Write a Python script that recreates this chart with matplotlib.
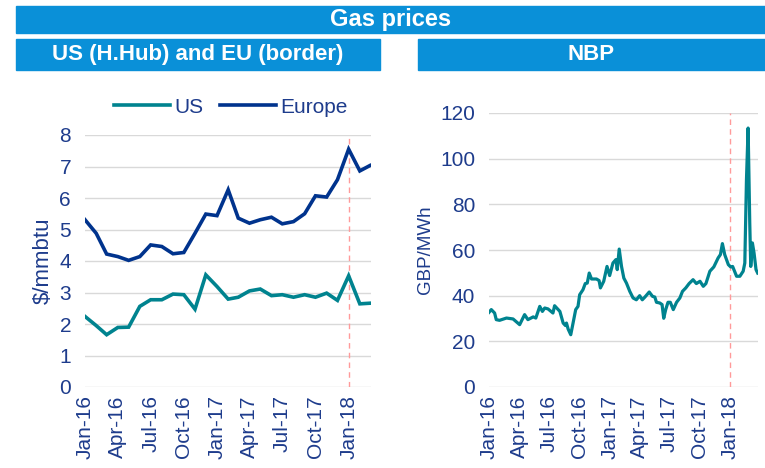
import matplotlib
matplotlib.use("Agg")
import matplotlib.pyplot as plt
import matplotlib.dates as mdates
import pandas as pd

# monthly prices, $/mmbtu, Jan-16 .. Mar-18
months = pd.date_range("2016-01-01", periods=27, freq="MS")
us = [2.24, 1.95, 1.66, 1.89, 1.90, 2.56, 2.77, 2.77, 2.95, 2.93, 2.47, 3.56,
      3.19, 2.79, 2.85, 3.05, 3.11, 2.90, 2.93, 2.85, 2.93, 2.85, 2.98, 2.75,
      3.53, 2.64, 2.66]
europe = [5.31, 4.88, 4.22, 4.14, 4.02, 4.14, 4.51, 4.46, 4.23, 4.27, 4.88, 5.49,
          5.44, 6.26, 5.36, 5.20, 5.31, 5.39, 5.18, 5.25, 5.50, 6.07, 6.03, 6.58,
          7.55, 6.86, 7.03]

# NBP, GBP/MWh
nbp_dates = ["2016-01-01", "2016-01-08", "2016-01-18", "2016-01-23", "2016-02-02",
             "2016-02-23", "2016-03-14", "2016-04-03", "2016-04-18", "2016-04-28",
             "2016-05-14", "2016-05-22", "2016-06-03", "2016-06-11", "2016-06-18",
             "2016-06-28", "2016-07-13", "2016-07-18", "2016-08-03", "2016-08-13",
             "2016-08-20", "2016-08-23", "2016-08-28", "2016-09-05", "2016-09-12",
             "2016-09-20", "2016-09-27", "2016-10-02", "2016-10-12", "2016-10-19",
             "2016-10-25", "2016-10-31", "2016-11-07", "2016-11-22", "2016-11-30",
             "2016-12-04", "2016-12-14", "2016-12-24", "2017-01-01", "2017-01-11",
             "2017-01-20", "2017-01-24", "2017-01-30", "2017-02-06", "2017-02-13",
             "2017-02-21", "2017-03-03", "2017-03-13", "2017-03-23", "2017-04-02",
             "2017-04-10", "2017-04-18", "2017-05-01", "2017-05-11", "2017-05-18",
             "2017-05-23", "2017-06-02", "2017-06-09", "2017-06-14", "2017-06-20",
             "2017-06-27", "2017-07-04", "2017-07-13", "2017-07-23", "2017-08-02",
             "2017-08-10", "2017-08-20", "2017-08-30", "2017-09-11", "2017-09-21",
             "2017-10-02", "2017-10-12", "2017-10-20", "2017-11-01", "2017-11-13",
             "2017-11-26", "2017-12-03", "2017-12-09", "2017-12-16", "2017-12-27",
             "2018-01-03", "2018-01-09", "2018-01-21", "2018-01-31", "2018-02-10",
             "2018-02-15", "2018-02-20", "2018-02-25", "2018-03-02", "2018-03-05",
             "2018-03-10", "2018-03-15", "2018-03-21", "2018-03-26"]
nbp = [32.7, 33.9, 32.4, 29.5, 29.2, 30.2, 29.8, 27.3, 31.7, 29.5,
       30.7, 30.2, 35.3, 33.1, 34.6, 34.2, 32.4, 35.6, 33.1, 28.0,
       26.9, 28.0, 25.4, 22.9, 28.0, 33.9, 35.3, 40.4, 42.6, 45.3,
       45.5, 49.9, 47.3, 47.3, 46.6, 43.4, 46.3, 52.8, 48.8, 54.3,
       55.8, 51.4, 60.4, 52.8, 47.7, 45.5, 41.9, 39.0, 38.2, 40.0,
       38.2, 39.4, 41.6, 39.7, 39.4, 37.1, 36.8, 36.1, 30.1, 33.9,
       37.1, 37.1, 33.9, 37.1, 39.0, 41.9, 43.4, 45.3, 47.0, 45.3,
       46.3, 44.1, 45.3, 50.7, 52.6, 56.5, 58.0, 62.8, 58.0, 53.6,
       52.6, 52.8, 48.5, 48.5, 50.7, 54.3, 90.8, 113.4, 71.8, 52.8,
       63.1, 58.7, 51.4, 49.9]
nbp_dates = pd.to_datetime(nbp_dates)

teal = "#00838F"
navy = "#00338D"
txt = "#1E3C8C"
head = "#0A90D8"
marker_day = pd.Timestamp("2018-01-01")

plt.rcParams["font.family"] = ["Liberation Sans", "DejaVu Sans"]

fig = plt.figure(figsize=(7.65, 4.68), dpi=100)

# header bars
def bar(x0, y0, x1, y1, text, size):
    fig.patches.append(plt.Rectangle((x0 / 765, 1 - y1 / 468), (x1 - x0) / 765,
                                     (y1 - y0) / 468, transform=fig.transFigure,
                                     color=head, zorder=0))
    fig.text((x0 + x1) / 2 / 765, 1 - (y0 + y1) / 2 / 468, text, color="white",
             fontsize=size, fontweight="bold", ha="center", va="center")

bar(16, 6, 765, 33, "Gas prices", 17)
bar(16, 39, 380, 70, "US (H.Hub) and EU (border)", 16)
bar(418, 39, 765, 70, "NBP", 16)

ax1 = fig.add_axes([85 / 765, 1 - 387 / 468, 286 / 765, 252 / 468])
ax2 = fig.add_axes([489 / 765, 1 - 387 / 468, 269 / 765, 274 / 468])

ax1.plot(months, us, color=teal, lw=2.6, label="US", solid_joinstyle="miter")
ax1.plot(months, europe, color=navy, lw=2.6, label="Europe", solid_joinstyle="miter")
ax1.set_ylim(0, 8)
ax1.set_yticks(range(0, 9))
ax1.set_xlim(months[0], months[-1] + pd.Timedelta(days=3))
ax1.set_ylabel("$/mmbtu", color=txt, fontsize=16, labelpad=4)
ax1.legend(loc="lower center", bbox_to_anchor=(0.51, 1.04), ncol=2, frameon=False,
           fontsize=15, labelcolor=txt, handlelength=2.7, handletextpad=0.2,
           columnspacing=0.8, borderaxespad=0)

ax2.plot(nbp_dates, nbp, color=teal, lw=2.3)
ax2.set_ylim(0, 120)
ax2.set_xlim(pd.Timestamp("2016-01-01"), pd.Timestamp("2018-03-27"))
ax2.set_ylabel("GBP/MWh", color=txt, fontsize=13.5, labelpad=4)

for ax in (ax1, ax2):
    ax.axvline(marker_day, color="#FF9A9A", lw=1, ls=(0, (4, 3)), zorder=1)
    ax.grid(axis="y", color="#D9D9D9", lw=1)
    ax.set_axisbelow(True)
    for s in ax.spines.values():
        s.set_visible(False)
    ax.xaxis.set_major_locator(mdates.MonthLocator(bymonth=[1, 4, 7, 10]))
    ax.xaxis.set_major_formatter(mdates.DateFormatter("%b-%y"))
    ax.tick_params(length=0, labelsize=15, labelcolor=txt)
    ax.tick_params(axis="x", rotation=90, pad=6)
    ax.tick_params(axis="y", pad=10)

fig.savefig("out.png", dpi=100)
